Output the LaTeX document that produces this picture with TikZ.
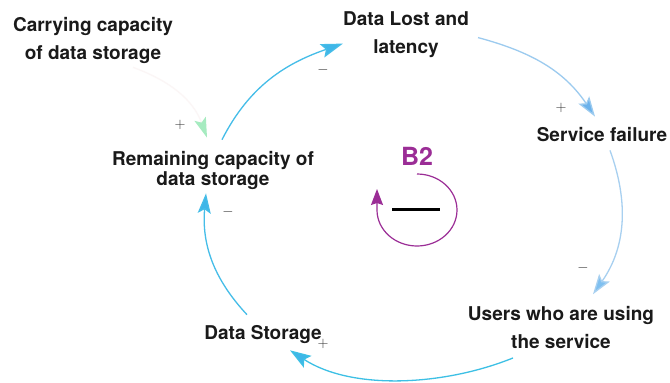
\documentclass[tikz,border=0pt]{standalone}
\usepackage{fontspec}
\setmainfont{TeX Gyre Heros}
\usetikzlibrary{arrows.meta}
\definecolor{txt}{HTML}{1A1A1A}
\definecolor{cyanA}{HTML}{45BDE8}
\definecolor{cyanB}{HTML}{3FB6E8}
\definecolor{lblueA}{HTML}{9CCBEF}
\definecolor{lblueB}{HTML}{6BB2EC}
\definecolor{lblueC}{HTML}{A8D0F0}
\definecolor{lblueD}{HTML}{7FC0F0}
\definecolor{tealA}{HTML}{3DC0E5}
\definecolor{mint}{HTML}{A6EBC0}
\definecolor{faint}{HTML}{FBF6F6}
\definecolor{loopc}{HTML}{9B2D96}
\begin{document}
\begin{tikzpicture}[x=1pt,y=1pt,
  lbl/.style={font=\bfseries\fontsize{19}{28}\selectfont, align=center, inner sep=0pt, text=txt},
  sgn/.style={font=\fontsize{14}{14}\selectfont, inner sep=0pt, text=black!80},
  conn/.style={line width=1.3pt, -{Stealth[length=19pt,width=13pt,inset=4pt]}},
]
\useasboundingbox (0,0) rectangle (670,-383);
\fill[white] (0,0) rectangle (670,-383);

% variables
\node[lbl] (carry) at (93,-40) {Carrying capacity\\of data storage};
\node[lbl] (lost) at (406,-34.6) {Data Lost and\\latency};
\node[lbl] (fail) at (602,-135) {Service failure};
\node[lbl] (users) at (561,-327.6) {Users who are using\\the service};
\node[lbl] (store) at (263,-335) {Data Storage};
\node[lbl, font=\bfseries\fontsize{19}{20}\selectfont] (rem) at (213,-170) {Remaining capacity of\\data storage};

% loop marker
\node[inner sep=0pt, text=loopc, font=\bfseries\fontsize{25}{25}\selectfont] (b2) at (417,-156.5) {B2};
\coordinate (loopc0) at (417,-210);
\draw[loopc, line width=1.2pt, -{Stealth[length=16pt,width=12pt,inset=2pt]}]
  ([yshift=36]loopc0) arc[start angle=90, end angle=-180, x radius=40, y radius=36] -- ++(0,21);
\node[inner sep=0pt, text=black] (loopsign) at (416,-209) {\rule{48pt}{3pt}};

% connectors
\draw[conn, cyanA, -{Stealth[length=22pt,width=14pt,inset=4pt,fill=cyanB]}]
  ([shift={(9,11)}]rem.north) to[out=63,in=199] ([yshift=-9]lost.west);
\draw[conn, lblueA, -{Stealth[length=20pt,width=13pt,inset=4pt,fill=lblueB]}]
  ([shift={(9,-3)}]lost.east) to[out=-15,in=124] ([shift={(-7,11)}]fail.north);
\draw[conn, lblueC, -{Stealth[length=20pt,width=13pt,inset=4pt,fill=lblueD]}]
  ([shift={(8,-8)}]fail.south) to[out=-70,in=55] ([shift={(32,12)}]users.north);
\draw[conn, tealA, -{Stealth[length=21pt,width=14pt,inset=4pt,fill=cyanB]}]
  ([shift={(-48,-9)}]users.south) to[out=202,in=-33,looseness=0.85] ([shift={(27,-6)}]store.south);
\draw[conn, cyanA, -{Stealth[length=20pt,width=13pt,inset=4pt,fill=cyanB]}]
  ([shift={(-16,11)}]store.north) to[out=133,in=265] ([shift={(-7,-4)}]rem.south);
\draw[line width=1.3pt, faint, -{Stealth[length=20pt,width=12pt,inset=4pt,color=mint,fill=mint]}]
  ([shift={(40,-4)}]carry.south) to[out=-20,in=110] ([shift={(-6,13)}]rem.north);

% polarity signs
\node[sgn] (s1) at (323,-70) {$-$};
\node[sgn] (s2) at (561,-108) {$+$};
\node[sgn] (s3) at (583,-268) {$-$};
\node[sgn] (s4) at (323,-344) {$+$};
\node[sgn] (s5) at (228,-212) {$-$};
\node[sgn] (s6) at (180,-125) {$+$};
\end{tikzpicture}
\end{document}
